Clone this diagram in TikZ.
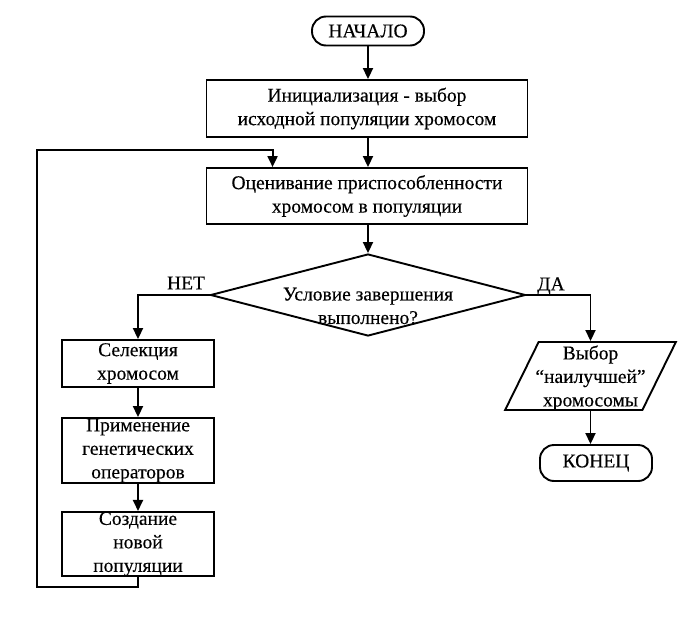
\documentclass[tikz,border=0pt]{standalone}
\usepackage{fontspec}
\setmainfont{Liberation Serif}
\newfontface\labelfont{Liberation Serif}[FakeBold=0.3]
\usetikzlibrary{arrows.meta,shapes.geometric,calc}
\begin{document}
\begin{tikzpicture}[x=1pt,y=-1pt,
  every node/.style={font=\labelfont\fontsize{19.5}{23.5}\selectfont, text=black},
  line/.style={line width=1.9pt, draw=black},
  flow/.style={line, -{Triangle[length=11pt,width=10pt]}},
  terminal/.style={line, rectangle, rounded corners=14pt, inner sep=0pt},
  procbox/.style={line, rectangle, inner sep=0pt, align=center, minimum width=152pt},
  widebox/.style={procbox, minimum width=321pt},
  decision/.style={line, diamond, inner sep=0pt, minimum width=315pt, minimum height=82pt},
  iobox/.style={line, trapezium, trapezium stretches=true,
    trapezium left angle=70.6, trapezium right angle=109.4,
    inner sep=0pt, minimum width=171pt, minimum height=68pt},
  caption/.style={align=center, inner sep=0pt}
]
\useasboundingbox (0,0) rectangle (696,618);

% main column
\node[terminal, minimum width=112pt, minimum height=29pt] (start) at (368,31) {НАЧАЛО};
\node[widebox, minimum height=57pt] (init) at (367,108.5)
  {Инициализация - выбор\\исходной популяции хромосом};
\node[widebox, minimum height=56pt] (eval) at (367,196)
  {Оценивание приспособленности\\хромосом в популяции};
\node[decision] (cond) at (368,295) {};
\node[caption] (condtext) at (368,306) {Условие завершения\\выполнено?};

% "no" branch
\node[procbox, minimum height=47pt] (sel) at (138,363.5) {Селекция\\хромосом};
\node[procbox, minimum height=65pt] (app) at (138,450.5) {Применение\\генетических\\операторов};
\node[procbox, minimum height=64pt] (new) at (138,544) {Создание\\новой\\популяции};

% "yes" branch
\node[iobox] (best) at (590.5,376) {\phantom{x}};
\node[caption] (besttext) at (590.5,378) {Выбор\\“наилучшей”\\хромосомы};
\node[terminal, minimum width=112pt, minimum height=36pt] (end) at (596,463) {КОНЕЦ};

% branch labels
\node (no) at (186,283) {НЕТ};
\node (yes) at (551,286) {ДА};

% loop route
\coordinate (loopL) at (37,587);
\coordinate (loopT) at (37,150);
\coordinate (entry) at ($(eval.north west)+(67,0)$);

% connectors
\draw[flow] (start.south) -- (start.south |- init.north);
\draw[flow] (start.south |- init.south) -- (start.south |- eval.north);
\draw[flow] (start.south |- eval.south) -- (cond.north);
\draw[flow] (cond.west) -| (sel.north);
\draw[flow] (sel.south) -- (app.north);
\draw[flow] (app.south) -- (new.north);
\draw[flow] (new.south) |- (loopL) -- (loopT) -| (entry);
\draw[flow] (cond.east) -| (best.center |- best.north);
\draw[flow] (best.center |- best.south) -- (best.center |- end.north);
\end{tikzpicture}
\end{document}
